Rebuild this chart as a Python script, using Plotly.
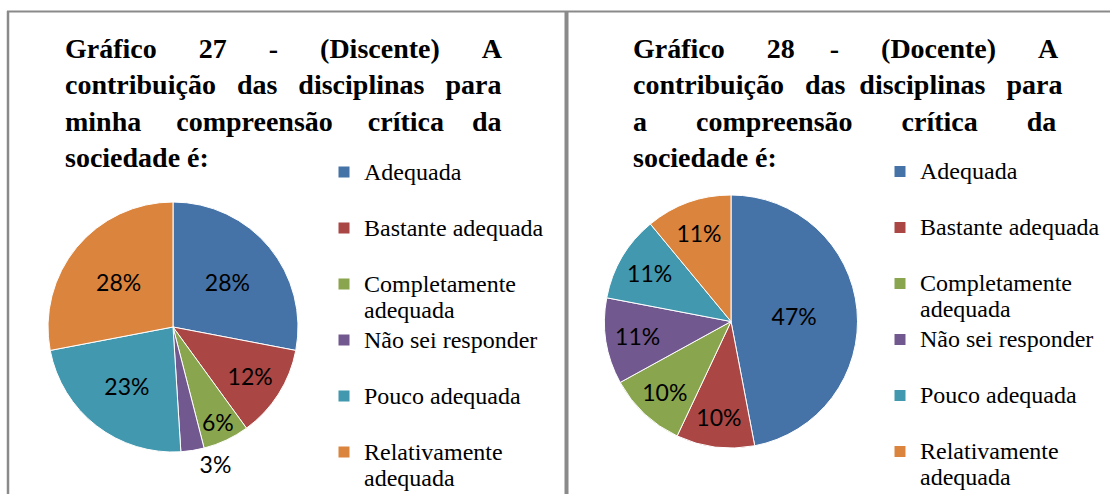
import plotly.graph_objects as go

# ---------------- data ----------------
categories = ["Adequada", "Bastante adequada", "Completamente adequada",
              "Não sei responder", "Pouco adequada", "Relativamente adequada"]
legend_lines = [["Adequada"], ["Bastante adequada"], ["Completamente", "adequada"],
                ["Não sei responder"], ["Pouco adequada"], ["Relativamente", "adequada"]]
discente_values = [28, 12, 6, 3, 23, 28]
docente_values = [47, 10, 10, 11, 11, 11]
colors = ["#4572A7", "#AA4643", "#89A54E", "#71588F", "#4198AF", "#DB843D"]
discente_textpos = ["inside", "inside", "inside", "outside", "inside", "inside"]
docente_textpos = ["inside"] * 6

title_left = [(["Gráfico", "27", "-", "(Discente)", "A"], [6, 6, 6, 6]),
              (["contribuição", "das", "disciplinas", "para"], [3, 3, 3]),
              (["minha", "compreensão", "crítica", "da"], [5, 5, 4]),
              (["sociedade", "é:"], [1])]
title_right = [(["Gráfico", "28", "-", "(Docente)", "A"], [6, 5, 6, 6]),
               (["contribuição", "das", "disciplinas", "para"], [3, 2, 3]),
               (["a", "compreensão", "crítica", "da"], [7, 7, 7]),
               (["sociedade", "é:"], [1])]

W, H = 1110, 494
NB = "\u00a0"


def justify(lines):
    out = []
    for words, gaps in lines:
        s = words[0]
        for w, g in zip(words[1:], gaps):
            s += NB * g + w
        out.append(s)
    return "<br>".join(out)


def px(x):
    return x / W


def py(y):
    return 1 - y / H


fig = go.Figure()

label_font = dict(family="Lato, Carlito, sans-serif", size=23, color="#000000")

for vals, tpos, dom in [
    (discente_values, discente_textpos, dict(x=[px(48), px(298)], y=[py(452), py(202)])),
    (docente_values, docente_textpos, dict(x=[px(604), px(858)], y=[py(448), py(195)])),
]:
    fig.add_trace(go.Pie(
        labels=categories, values=vals, sort=False, direction="clockwise",
        rotation=0, marker=dict(colors=colors, line=dict(color="white", width=1)),
        texttemplate="%{value}%", textposition=tpos,
        insidetextorientation="horizontal",
        insidetextfont=label_font, outsidetextfont=label_font,
        domain=dom, showlegend=False, hoverinfo="label+percent",
    ))

# legend entries (one legend per entry so spacing matches the original)
legend_font = dict(family="Liberation Serif, Times New Roman, serif", size=20, color="#000000")
legend_layouts = {}
step = 56
for side, (x_left, y_first) in enumerate([(324, 170.5), (880, 170)]):
    for i, (name, lines, col) in enumerate(zip(categories, legend_lines, colors)):
        k = side * 6 + i + 1
        key = "legend" if k == 1 else f"legend{k}"
        lab = "<br>".join(f"<span style='font-size:24px'>{t}</span>" for t in lines)
        fig.add_trace(go.Scatter(
            x=[None], y=[None], mode="markers", name=lab,
            marker=dict(symbol="square", size=11, color=col),
            legend=key, showlegend=True, hoverinfo="skip",
        ))
        yc = y_first + step * i
        legend_layouts[key] = dict(
            x=px(x_left), xanchor="left", y=py(yc - 18), yanchor="top",
            font=legend_font, bgcolor="rgba(0,0,0,0)", borderwidth=0,
            valign="top", itemwidth=30,
        )

title_font = dict(family="Liberation Serif, Times New Roman, serif", size=28,
                  color="#000000", weight="bold")
annotations = [
    dict(text=justify(title_left), x=px(63), y=py(31), xref="paper", yref="paper",
         xanchor="left", yanchor="top", align="left", showarrow=False, font=title_font),
    dict(text=justify(title_right), x=px(631), y=py(31), xref="paper", yref="paper",
         xanchor="left", yanchor="top", align="left", showarrow=False, font=title_font),
]

line_col = "#8a8a8a"
shapes = [
    dict(type="line", xref="paper", yref="paper", x0=px(7), x1=1, y0=py(11.5), y1=py(11.5),
         line=dict(color=line_col, width=2)),
    dict(type="line", xref="paper", yref="paper", x0=px(8), x1=px(8), y0=0, y1=py(11),
         line=dict(color=line_col, width=2.5)),
    dict(type="line", xref="paper", yref="paper", x0=px(566.5), x1=px(566.5), y0=0, y1=py(11),
         line=dict(color=line_col, width=4)),
]

fig.update_layout(
    width=W, height=H, margin=dict(l=0, r=0, t=0, b=0, autoexpand=False),
    paper_bgcolor="white", plot_bgcolor="white",
    xaxis=dict(visible=False), yaxis=dict(visible=False),
    uniformtext=dict(minsize=23, mode="show"),
    annotations=annotations, shapes=shapes,
    **legend_layouts,
)

fig.write_html("out.html", config={"displayModeBar": False},
               post_script="document.body.style.margin='0px';")
